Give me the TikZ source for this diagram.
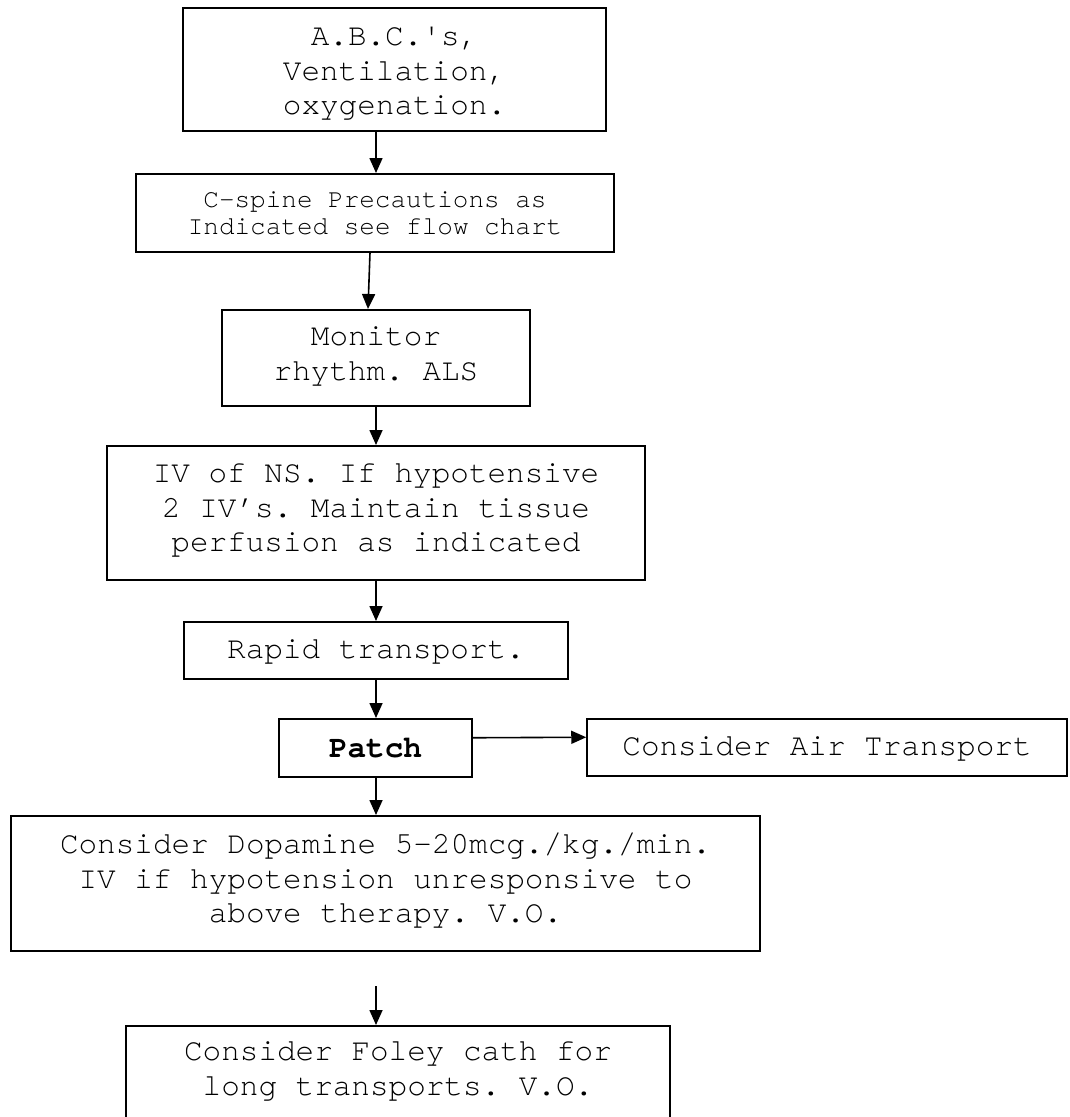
\documentclass[tikz,border=0pt]{standalone}
\usepackage{fontspec}
\newfontfamily\cour[Ligatures=NoCommon]{TeX Gyre Cursor}
\usetikzlibrary{arrows.meta}
\frenchspacing
\tikzset{
  stepbox/.style={draw, line width=1.5pt, inner xsep=0pt, inner ysep=0pt, align=center, anchor=north, font=\cour\fontsize{31}{34.5}\selectfont},
  smallbox/.style={stepbox, font=\cour\fontsize{26}{27}\selectfont},
  arr/.style={-{Triangle[length=15pt,width=13pt]}, line width=1.6pt}
}
\begin{document}
\begin{tikzpicture}[x=1pt, y=-1pt]
\useasboundingbox (0,0) rectangle (1069,1117);
\clip (0,0) rectangle (1069,1117);
\coordinate (axis) at (376,0);
\node[stepbox, minimum width=423pt, text height=107pt, text depth=16pt] (abc) at (394.5,7) {A.B.C.\textquotesingle s,\\Ventilation,\\oxygenation.};
\node[smallbox, minimum width=478pt, text height=61pt, text depth=17pt] (cspine) at (375,173) {C-spine Precautions as\\Indicated see flow chart};
\node[stepbox, minimum width=308pt, text height=70.5pt, text depth=25.5pt] (monitor) at (376,309) {Monitor\\rhythm. ALS};
\node[stepbox, minimum width=538pt, text height=106pt, text depth=28pt] (ivns) at (376,445) {IV of NS. If hypotensive\\2 IV’s. Maintain tissue\\perfusion as indicated};
\node[stepbox, minimum width=384pt, text height=37pt, text depth=20pt] (rapid) at (376,621) {Rapid transport.};
\node[stepbox, minimum width=193pt, text height=39pt, text depth=19pt] (patch) at (375.5,718) {\bfseries Patch};
\node[stepbox, minimum width=480pt, text height=37pt, text depth=20pt] (air) at (827,718) {Consider Air Transport};
\node[stepbox, minimum width=749pt, text height=107pt, text depth=28pt] (dopamine) at (385.5,815) {Consider Dopamine 5-20mcg./kg./min.\\IV if hypotension unresponsive to\\above therapy. V.O.};
\node[stepbox, minimum width=544pt, text height=69.5pt, text depth=85.5pt] (foley) at (398,1025) {Consider Foley cath for\\long transports. V.O.};
\coordinate (gap) at (376,986);
\draw[arr] (abc.south -| axis) -- (cspine.north -| axis);
\draw[arr] ([xshift=-5pt]cspine.south) -- ([xshift=-8pt]monitor.north);
\draw[arr] (monitor.south -| axis) -- (ivns.north -| axis);
\draw[arr] (ivns.south -| axis) -- (rapid.north -| axis);
\draw[arr] (rapid.south -| axis) -- (patch.north -| axis);
\draw[arr] ([yshift=10pt]patch.east) -- ([yshift=10pt]air.west);
\draw[arr] (patch.south -| axis) -- (dopamine.north -| axis);
\draw[arr] (gap) -- (foley.north -| gap);
\end{tikzpicture}
\end{document}
